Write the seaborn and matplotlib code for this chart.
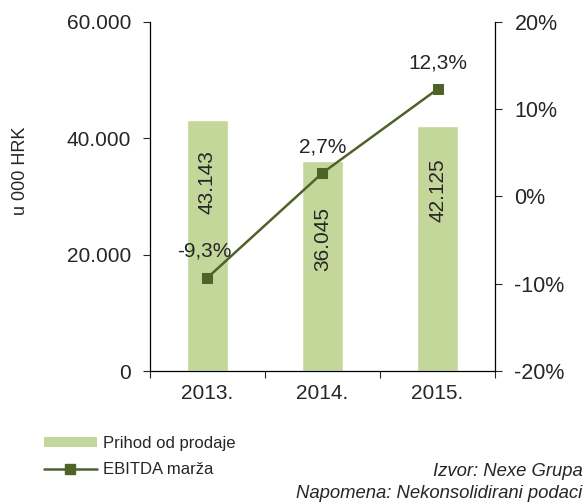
import numpy as np
import pandas as pd
import seaborn as sns
import matplotlib.pyplot as plt
from matplotlib.lines import Line2D
from matplotlib.patches import Patch
from matplotlib.ticker import FuncFormatter

sns.set_style("white")
plt.rcParams['font.family'] = ['Liberation Sans', 'DejaVu Sans']
plt.rcParams['axes.unicode_minus'] = False

# podaci
godine = ['2013.', '2014.', '2015.']
prihod = [43143, 36045, 42125]          # u 000 HRK
ebitda_marza = [-9.3, 2.7, 12.3]        # %
prihod_oznake = ['43.143', '36.045', '42.125']
marza_oznake = ['-9,3%', '2,7%', '12,3%']

boja_stupac = '#c4d79b'
boja_linija = '#4f6228'

df = pd.DataFrame({'godina': godine, 'prihod': prihod, 'marza': ebitda_marza})
df['poz'] = np.arange(len(df))

fig = plt.figure(figsize=(5.87, 5.03), dpi=100)
ax = fig.add_axes([0.2555, 0.2624, 0.5878, 0.6939])

sns.barplot(data=df, x='godina', y='prihod', color=boja_stupac, width=0.35,
            saturation=1, ax=ax)
ax.set_ylim(0, 60000)
ax.set_xlim(-0.5, 2.5)
ax.set_yticks([0, 20000, 40000, 60000])
ax.yaxis.set_major_formatter(FuncFormatter(lambda v, p: f"{int(v):,}".replace(',', '.')))
ax.set_xlabel('')
ax.set_ylabel('')
ax.tick_params(axis='y', direction='out', length=5, width=0.8, labelsize=15, pad=8.5, left=True)
ax.tick_params(axis='x', which='major', length=0, labelsize=15, pad=9)
ax.set_xticks([-0.5, 0.5, 1.5, 2.5], minor=True)
ax.tick_params(axis='x', which='minor', direction='out', length=5, width=0.8, bottom=True)
for s in ['left', 'bottom']:
    ax.spines[s].set_color('black')
    ax.spines[s].set_linewidth(0.9)
ax.spines['top'].set_visible(False)
ax.spines['right'].set_visible(False)

fig.text(21 / 587, 1 - 171 / 503, 'u 000 HRK', rotation=90, ha='center', va='center', fontsize=13)

# oznake stupaca (okomito)
oznaka_y = [0.751, 0.628, 0.737]
for i, (v, t) in enumerate(zip(prihod, prihod_oznake)):
    ax.text(i, v * oznaka_y[i], t, rotation=90, ha='center', va='center', fontsize=15)

ax2 = ax.twinx()
sns.lineplot(data=df, x='poz', y='marza', color=boja_linija, marker='s',
             markersize=7.5, markeredgecolor=boja_linija, linewidth=1.8, ax=ax2)
ax2.set_ylim(-20, 20)
ax2.set_yticks([-20, -10, 0, 10, 20])
ax2.yaxis.set_major_formatter(FuncFormatter(lambda v, p: f"{int(v)}%"))
ax2.set_ylabel('')
ax2.set_xlabel('')
ax2.tick_params(axis='y', direction='out', length=5, width=0.8, labelsize=15.5, pad=9, right=True)
ax2.spines['right'].set_color('black')
ax2.spines['right'].set_linewidth(0.9)
for s in ['top', 'left', 'bottom']:
    ax2.spines[s].set_visible(False)

pomak_x = [-2, 0, 0]
for i, (v, t) in enumerate(zip(ebitda_marza, marza_oznake)):
    ax2.annotate(t, (i, v), xytext=(pomak_x[i], 19), textcoords='offset points',
                 ha='center', va='center', fontsize=15)

# legenda
ruke = [Patch(facecolor=boja_stupac, edgecolor='none'),
        Line2D([0], [0], color=boja_linija, marker='s', markersize=7.5, linewidth=1.8)]
fig.legend(ruke, ['Prihod od prodaje', 'EBITDA marža'], loc='upper left',
           bbox_to_anchor=(0.063, 0.147), frameon=False, fontsize=12,
           handlelength=3.2, handleheight=0.55, labelspacing=0.68, handletextpad=0.36,
           borderaxespad=0)

fig.text(0.992, 1 - 472 / 503, 'Izvor: Nexe Grupa', ha='right', va='center', fontsize=13.3, style='italic')
fig.text(0.992, 1 - 493 / 503, 'Napomena: Nekonsolidirani podaci', ha='right', va='center',
         fontsize=13.3, style='italic')

fig.savefig('out.png', dpi=100)
